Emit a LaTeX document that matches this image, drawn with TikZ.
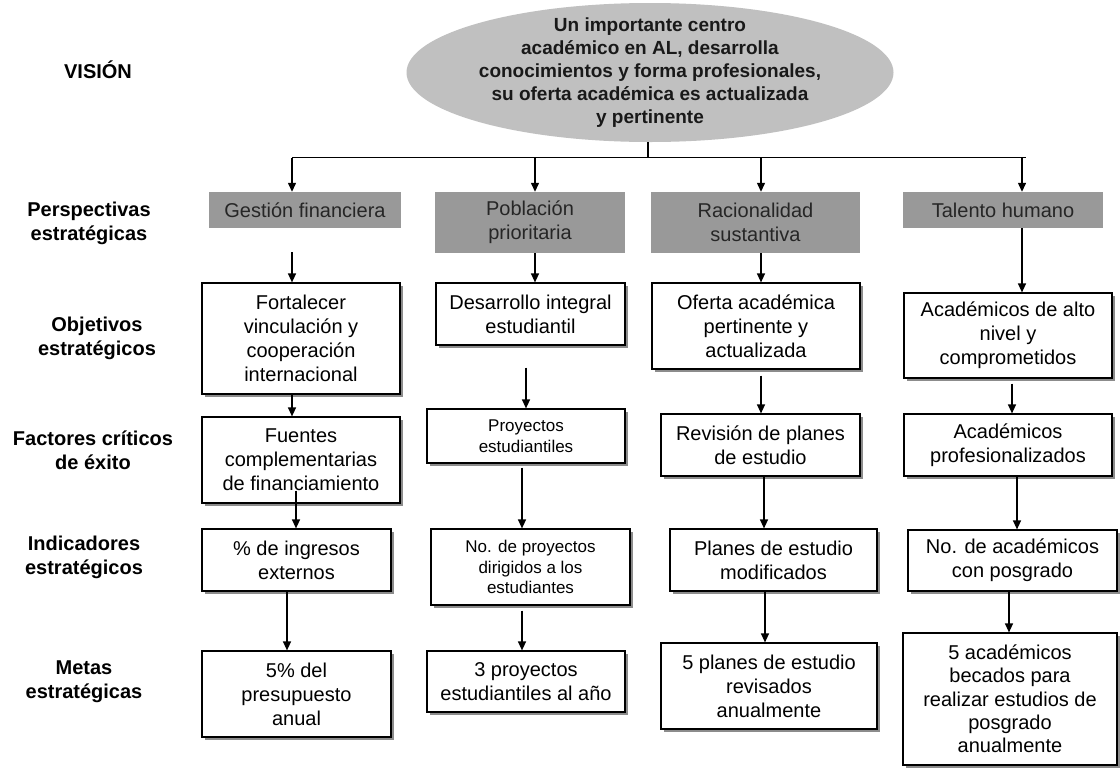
\documentclass[tikz,border=0pt]{standalone}
\usepackage{fontspec}
\setmainfont{Liberation Sans}
\usetikzlibrary{shapes.geometric,arrows.meta,calc,shadows}
\definecolor{ellgray}{HTML}{C0C0C0}
\definecolor{persgray}{HTML}{999999}
\definecolor{shad}{HTML}{8C8C8C}
\begin{document}
\begin{tikzpicture}[x=1pt,y=-1pt,
  box/.style={draw=black, line width=1.2pt, fill=white, align=center, inner sep=0pt,
    font=\fontsize{20}{24}\selectfont,
    drop shadow={shadow xshift=3pt, shadow yshift=-3pt, fill=shad, opacity=1}},
  smallbox/.style={box, font=\fontsize{17}{20.5}\selectfont},
  pers/.style={fill=persgray, align=center, inner sep=0pt, text=black!85,
    font=\fontsize{20}{24}\selectfont},
  lab/.style={align=center, font=\bfseries\fontsize{20}{24}\selectfont},
  conn/.style={line width=1.3pt},
  arr/.style={line width=1.3pt, -{Triangle[length=9pt,width=8pt]}}]
\fill[white] (0,0) rectangle (1120,769);
\useasboundingbox (0,0) rectangle (1120,769);

% row labels
\node[lab] (lv) at (98,70) {VISIÓN};
\node[lab] (lp) at (89,223) {Perspectivas\\estratégicas};
\node[lab] (lo) at (97,338) {Objetivos\\estratégicos};
\node[lab] (lf) at (93,450) {Factores críticos\\de éxito};
\node[lab] (li) at (84,557) {Indicadores\\estratégicos};
\node[lab] (lm) at (84,682) {Metas\\estratégicas};

% vision
\node[ellipse, fill=ellgray, minimum width=487pt, minimum height=139pt, inner sep=0pt] (vis) at (650,72.5) {};
\node[align=center, text=black!90, font=\bfseries\fontsize{19}{23}\selectfont] (vist) at (vis.center)
  {Un importante centro\\académico en AL, desarrolla\\conocimientos y forma profesionales,\\su oferta académica es actualizada\\y pertinente};

% perspectives
\node[pers, minimum width=192pt, minimum height=36pt] (p1) at (305,210) {Gestión financiera};
\node[pers, minimum width=190pt, minimum height=61pt] (p2) at (530,222.5) {Población\\prioritaria};
\node[pers, minimum width=209pt, minimum height=61pt] (p3) at (755.5,222.5) {Racionalidad\\sustantiva};
\node[pers, minimum width=200pt, minimum height=36pt] (p4) at (1003,210) {Talento humano};

% objectives
\node[box, minimum width=198pt, minimum height=111pt] (o1) at (301,338.5) {Fortalecer\\vinculación y\\cooperación\\internacional};
\node[box, minimum width=189pt, minimum height=62pt] (o2) at (530.5,314) {Desarrollo integral\\estudiantil};
\node[box, minimum width=208pt, minimum height=86pt] (o3) at (756,326) {Oferta académica\\pertinente y\\actualizada};
\node[box, minimum width=208pt, minimum height=85pt] (o4) at (1008,335.5) {Académicos de alto\\nivel y\\comprometidos};

% critical factors
\node[box, minimum width=198pt, minimum height=86pt] (f1) at (301,460) {Fuentes\\complementarias\\de financiamiento};
\node[smallbox, minimum width=198pt, minimum height=54pt] (f2) at (526,436) {Proyectos\\estudiantiles};
\node[box, minimum width=199pt, minimum height=62pt] (f3) at (760.5,445) {Revisión de planes\\de estudio};
\node[box, minimum width=208pt, minimum height=62pt] (f4) at (1008,445) {Académicos\\profesionalizados};

% indicators
\node[box, minimum width=189pt, minimum height=62pt] (i1) at (296.5,560) {\% de ingresos\\externos};
\node[smallbox, minimum width=199pt, minimum height=76pt] (i2) at (530.5,567) {No. de proyectos\\dirigidos a los\\estudiantes};
\node[box, minimum width=207pt, minimum height=62pt] (i3) at (773.5,560) {Planes de estudio\\modificados};
\node[box, minimum width=209pt, minimum height=61pt] (i4) at (1012.5,560.5) {No. de académicos\\con posgrado};

% goals
\node[box, minimum width=189pt, minimum height=86pt] (m1) at (296.5,694) {5\% del\\presupuesto\\anual};
\node[box, minimum width=198pt, minimum height=61pt] (m2) at (526,681.5) {3 proyectos\\estudiantiles al año};
\node[box, minimum width=216pt, minimum height=86pt] (m3) at (769,686) {5 planes de estudio\\revisados\\anualmente};
\node[box, minimum width=214pt, minimum height=132pt, font=\fontsize{20}{23.3}\selectfont] (m4) at (1010,699) {5 académicos\\becados para\\realizar estudios de\\posgrado\\anualmente};

% top bus
\path ($(p1.north)+(-13,-34)$) coordinate (t1)
      ($(p2.north)+(5,-34)$) coordinate (t2)
      ($(p3.north)+(5.5,-34)$) coordinate (t3)
      ($(p4.north)+(19,-34)$) coordinate (t4)
      ($(vis.south)+(-2,0)$) coordinate (st);
\draw[conn] (st) -- (st |- t1);
\draw[conn] (t1) -- ($(t4)+(4,0)$);
\foreach \t/\p in {t1/p1,t2/p2,t3/p3,t4/p4}
  \draw[arr] (\t) -- (\t |- \p.north);

% vertical links: from, to, dx from source centre, dy start offset
\newcommand\vlink[4]{%
  \path ($(#1.south)+(#3,#4)$) coordinate (tmp);
  \draw[arr] (tmp) -- (tmp |- #2.north);}
\vlink{p1}{o1}{-13}{24}
\vlink{o1}{f1}{-9}{0}
\vlink{f1}{i1}{-5}{-13}
\vlink{i1}{m1}{-9.5}{0}
\vlink{p2}{o2}{5}{0}
\vlink{o2}{f2}{-4.5}{22}
\vlink{f2}{i2}{-4}{4}
\vlink{i2}{m2}{-8.5}{5}
\vlink{p3}{o3}{5.5}{0}
\vlink{o3}{f3}{5}{6}
\vlink{f3}{i3}{3.5}{0}
\vlink{i3}{m3}{-8.5}{0}
\vlink{p4}{o4}{19}{0}
\vlink{o4}{f4}{4}{5}
\vlink{f4}{i4}{9}{0}
\vlink{i4}{m4}{-3.5}{0}
\end{tikzpicture}
\end{document}
